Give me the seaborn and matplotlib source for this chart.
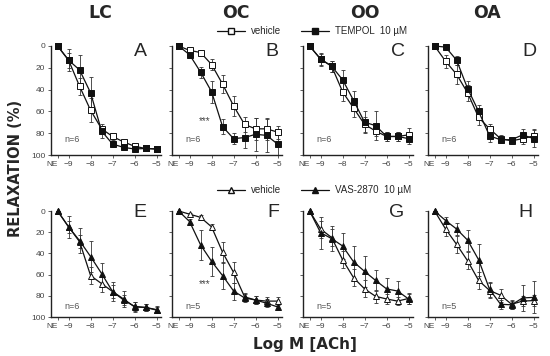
import numpy as np
import pandas as pd
import matplotlib
matplotlib.use("Agg")
import matplotlib.pyplot as plt
import seaborn as sns
from matplotlib.lines import Line2D

# dose axis: NE (no agonist) then log M ACh
doses = [-9.5, -9, -8.5, -8, -7.5, -7, -6.5, -6, -5.5, -5]
xtick_pos = [-9.5, -9, -8, -7, -6, -5]
xtick_labels = ["NE", "\u22129", "\u22128", "\u22127", "\u22126", "\u22125"]
yticks = [0, 20, 40, 60, 80, 100]

titles = ["LC", "OC", "OO", "OA"]
letters_top = ["A", "B", "C", "D"]
letters_bot = ["E", "F", "G", "H"]
n_top = ["n=6", "n=6", "n=6", "n=6"]
n_bot = ["n=6", "n=5", "n=5", "n=5"]

# top row: vehicle vs TEMPOL
lc_veh = [0, 13, 37, 59, 76, 83, 88, 92, 94, 94.5]
lc_veh_err = [0, 7, 8, 11, 3, 3, 2, 2, 1.5, 1.5]
lc_tem = [0, 13, 22, 43, 78, 90, 93, 94.5, 94, 94.5]
lc_tem_err = [0, 10, 14, 15, 6, 3, 2, 1.5, 1.5, 1.5]

oc_veh = [0, 4, 6, 17, 35, 55, 72, 76, 76, 79]
oc_veh_err = [0, 1, 2, 5, 8, 9, 7, 10, 10, 6]
oc_tem = [0, 8, 24, 42, 74, 85, 84, 81, 82, 90]
oc_tem_err = [0, 2, 5, 10, 7, 5, 10, 15, 15, 10]

oo_veh = [0, 12, 18.5, 42, 57, 72, 78, 83, 83, 81.5]
oo_veh_err = [0, 5, 5, 8, 8, 7, 5, 4, 4, 6]
oo_tem = [0, 12, 18.5, 31, 50, 70, 73, 83, 83, 85]
oo_tem_err = [0, 6, 5, 9, 9, 10, 13, 4, 4, 5]

oa_veh = [0, 14, 26, 43, 65.5, 76, 85, 87, 85, 82.5]
oa_veh_err = [0, 6, 9, 7, 7, 4, 3, 3, 5, 6]
oa_tem = [0, 1, 13, 39, 60, 82.5, 86, 86, 81.5, 85]
oa_tem_err = [0, 1, 4, 7, 6, 6, 3, 2, 5, 8]

# bottom row: vehicle vs VAS-2870
lc_veh2 = [0, 15, 29, 61, 68.5, 76, 84, 90, 91, 93.5]
lc_veh2_err = [0, 6, 6, 8, 8, 6, 5, 4, 3, 3]
lc_vas = [0, 15, 28, 43, 59, 76, 83, 90.5, 91, 93]
lc_vas_err = [0, 10, 12, 15, 10, 9, 8, 5, 3, 3]

oc_veh2 = [0, 3, 6, 15, 39, 58, 81, 84, 85, 85]
oc_veh2_err = [0, 1, 2, 3, 10, 10, 4, 4, 4, 4]
oc_vas = [0, 10, 32, 47.5, 61, 75.5, 82, 84, 87, 90.5]
oc_vas_err = [0, 2, 14, 14, 13, 8, 4, 4, 4, 3]

oo_veh2 = [0, 17, 25, 46, 63, 73.5, 80.5, 83, 85, 82.5]
oo_veh2_err = [0, 8, 8, 8, 8, 8, 6, 5, 4, 5]
oo_vas = [0, 20.5, 26, 33, 48, 57, 65.5, 73.5, 75.5, 83]
oo_vas_err = [0, 15, 12, 12, 15, 15, 10, 10, 9, 5]

oa_veh2 = [0, 17, 31.5, 47, 65.5, 75, 79.5, 88, 85, 84.5]
oa_veh2_err = [0, 7, 8, 8, 8, 7, 6, 4, 5, 5]
oa_vas = [0, 9, 17, 27.5, 46, 74, 88, 88.5, 82, 81.5]
oa_vas_err = [0, 3, 6, 10, 15, 7, 4, 4, 12, 15]

top_data = [(lc_veh, lc_veh_err, lc_tem, lc_tem_err),
            (oc_veh, oc_veh_err, oc_tem, oc_tem_err),
            (oo_veh, oo_veh_err, oo_tem, oo_tem_err),
            (oa_veh, oa_veh_err, oa_tem, oa_tem_err)]
bot_data = [(lc_veh2, lc_veh2_err, lc_vas, lc_vas_err),
            (oc_veh2, oc_veh2_err, oc_vas, oc_vas_err),
            (oo_veh2, oo_veh2_err, oo_vas, oo_vas_err),
            (oa_veh2, oa_veh2_err, oa_vas, oa_vas_err)]

sns.set_style("ticks")
plt.rcParams["font.family"] = ["Liberation Sans", "DejaVu Sans"]

fig = plt.figure(figsize=(5.5, 3.56), dpi=100)

col_left = [51, 172, 303, 428]
ax_w = 110
letter_x = [0.81, 0.91, 0.86, 0.92]
letter_x_bot = [0.81, 0.92, 0.85, 0.89]


def draw_series(ax, y, err, marker, filled):
    ax.errorbar(doses, y, yerr=err, fmt="none", ecolor="#333333",
                elinewidth=0.6, capsize=1.3, capthick=0.6, zorder=2)
    sns.lineplot(x=doses, y=y, ax=ax, color="#111111", lw=0.9,
                 marker=marker, markersize=4.4 if marker == "s" else 5.0,
                 markerfacecolor="#111111" if filled else "white",
                 markeredgecolor="#111111", markeredgewidth=0.7,
                 zorder=3, clip_on=False)


def style_axes(ax, show_ylabels):
    ax.set_xlim(-9.8, -4.8)
    ax.set_ylim(100, 0)
    ax.set_xticks(xtick_pos)
    ax.set_xticklabels(xtick_labels)
    ax.set_yticks(yticks)
    if show_ylabels:
        ax.set_yticklabels([str(v) for v in yticks])
    else:
        ax.set_yticklabels([])
    ax.tick_params(axis="both", labelsize=6, length=2.5, width=0.6,
                   pad=1.5, colors="#444444")
    # NE label sits just left of its tick so it does not touch -9
    ax.get_xticklabels()[0].set_horizontalalignment("right")
    for s in ["top", "right"]:
        ax.spines[s].set_visible(False)
    for s in ["left", "bottom"]:
        ax.spines[s].set_linewidth(1.0)
        ax.spines[s].set_color("#222222")
    ax.set_xlabel("")
    ax.set_ylabel("")


rows = [(155, 109, top_data, letters_top, letter_x, n_top, "s", 0.95),
        (317, 106, bot_data, letters_bot, letter_x_bot, n_bot, "^", 0.99)]

for bottom_px, h_px, data, letters, lx, ns, mk, ly in rows:
    for i in range(4):
        ax = fig.add_axes([col_left[i] / 550, 1 - bottom_px / 356,
                           ax_w / 550, h_px / 356])
        veh, veh_err, trt, trt_err = data[i]
        draw_series(ax, veh, veh_err, mk, False)
        draw_series(ax, trt, trt_err, mk, True)
        style_axes(ax, i == 0)
        ax.text(lx[i], ly, letters[i], transform=ax.transAxes,
                ha="center", va="center", fontsize=14)
        ax.text(-8.85, 86 if mk == "s" else 90, ns[i], fontsize=6.5,
                color="#555555", ha="center", va="center")
        if i == 1:
            ax.text(-8.3, 69, "***", fontsize=7, color="#444444",
                    ha="center", va="center")

# column titles
for t, xc in zip(titles, [100, 236, 365, 487]):
    fig.text(xc / 550, 1 - 13 / 356, t, ha="center", va="center",
             fontsize=12.5, fontweight="bold", family=["DejaVu Sans"])

# legends
leg_kw = dict(frameon=False, ncol=2, fontsize=7, handlelength=2.9,
              handletextpad=0.6, columnspacing=2.0, borderpad=0,
              borderaxespad=0, loc="center left")
h1 = [Line2D([], [], color="#111111", lw=0.9, marker="s", markersize=4.4,
             markerfacecolor="white", markeredgecolor="#111111"),
      Line2D([], [], color="#111111", lw=0.9, marker="s", markersize=4.4,
             markerfacecolor="#111111", markeredgecolor="#111111")]
fig.legend(h1, ["vehicle", "TEMPOL  10 \u00b5M"],
           bbox_to_anchor=(217 / 550, 1 - 31 / 356), **leg_kw)
h2 = [Line2D([], [], color="#111111", lw=0.9, marker="^", markersize=5.0,
             markerfacecolor="white", markeredgecolor="#111111"),
      Line2D([], [], color="#111111", lw=0.9, marker="^", markersize=5.0,
             markerfacecolor="#111111", markeredgecolor="#111111")]
fig.legend(h2, ["vehicle", "VAS-2870  10 \u00b5M"],
           bbox_to_anchor=(217 / 550, 1 - 190 / 356), **leg_kw)

fig.text(16 / 550, 1 - 168 / 356, "RELAXATION (%)", rotation=90,
         ha="center", va="center", fontsize=10.5, fontweight="bold",
         family=["DejaVu Sans"])
fig.text(305 / 550, 1 - 344 / 356, "Log M [ACh]", ha="center",
         va="center", fontsize=11, fontweight="bold",
         family=["DejaVu Sans"])

fig.savefig("out.png", dpi=100)
